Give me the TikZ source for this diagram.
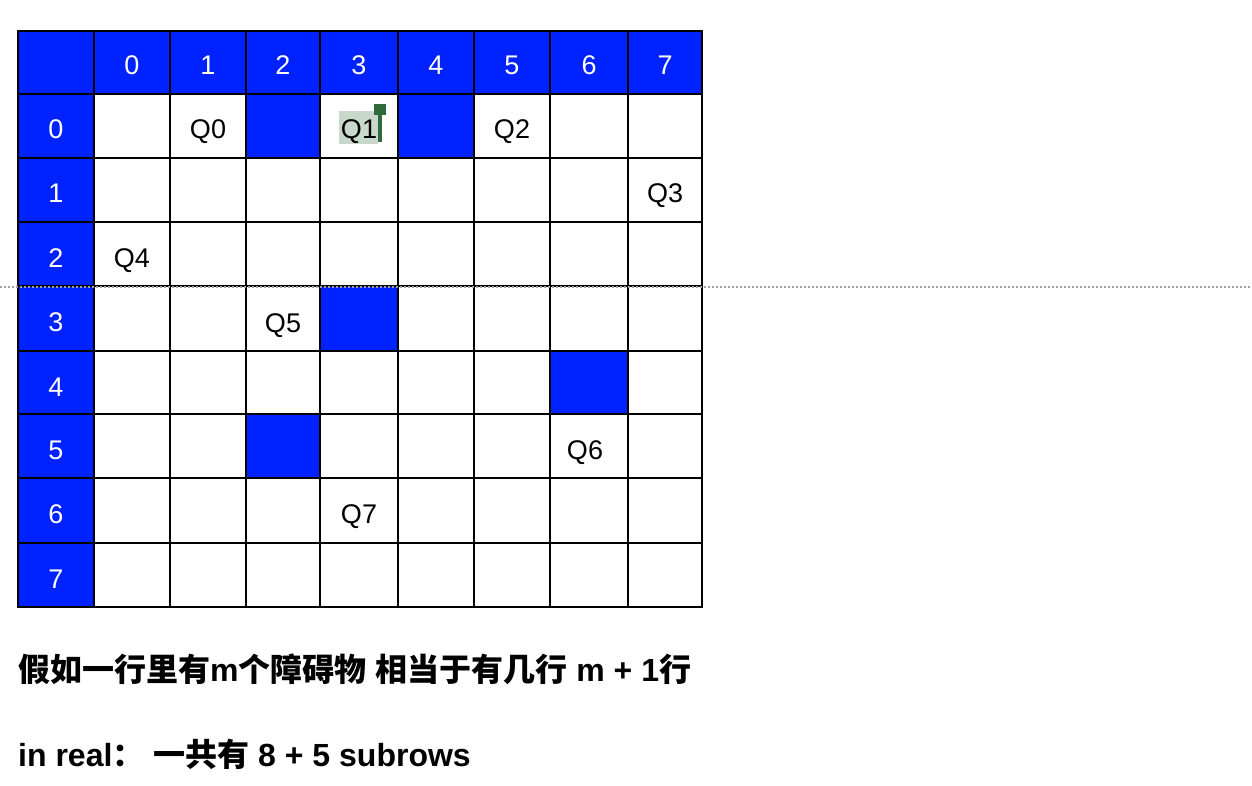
\documentclass[tikz,border=0pt]{standalone}
\usepackage{fontspec}
\setmainfont{Liberation Sans}
\newfontfamily\cjk{Noto Sans CJK SC}
\definecolor{cellblue}{HTML}{0022FF}
\definecolor{hlgreen}{HTML}{C8D9CB}
\definecolor{cursorgreen}{HTML}{2F6B3A}
\definecolor{dotgray}{HTML}{A0A0A0}
\begin{document}
\begin{tikzpicture}[x=1pt,y=-1pt,
  gridline/.style={line width=2pt,black,line cap=rect},
  blue cell/.style={fill=cellblue},
  hdrtext/.style={text=white,inner sep=0pt,anchor=base,font=\fontsize{27}{30}\selectfont},
  qtext/.style={text=black,inner sep=0pt,anchor=base,font=\fontsize{27}{30}\selectfont},
  note/.style={inner sep=0pt,anchor=base west,font=\fontsize{32}{36}\selectfont\bfseries}]
\useasboundingbox[fill=white] (0,0) rectangle (1252,786);
% header row and header column
\fill[blue cell] (18,31) rectangle (702,94);
\fill[blue cell] (18,31) rectangle (94,607);
% obstacles
\fill[blue cell] (246,94) rectangle (320,158);
\fill[blue cell] (398,94) rectangle (474,158);
\fill[blue cell] (320,286) rectangle (398,351);
\fill[blue cell] (550,351) rectangle (628,414);
\fill[blue cell] (246,414) rectangle (320,478);
% highlight of Q1
\fill[hlgreen] (339,111) rectangle (378,144);
% grid lines
\foreach \xx in {18,94,170,246,320,398,474,550,628,702}
  \draw[gridline] (\xx,31) -- (\xx,607);
\foreach \yy in {31,94,158,222,286,351,414,478,543,607}
  \draw[gridline] (18,\yy) -- (702,\yy);
% header labels
\foreach \c/\cx in {0/132,1/208,2/283,3/359,4/436,5/512,6/589,7/665}
  \node[hdrtext] (col\c) at (\cx,75) {\c};
\foreach \r/\ry in {0/139,1/203,2/267,3/331,4/396,5/459,6/523,7/588}
  \node[hdrtext] (row\r) at (56,\ry) {\r};
% queens
\node[qtext] (q0) at (208,139) {Q0};
\node[qtext] (q1) at (359,139) {Q1};
\node[qtext] (q2) at (512,139) {Q2};
\node[qtext] (q3) at (665,203) {Q3};
\node[qtext] (q4) at (132,267) {Q4};
\node[qtext] (q5) at (283,332) {Q5};
\node[qtext] (q6) at (585,459) {Q6};
\node[qtext] (q7) at (359,523) {Q7};
% cursor
\fill[cursorgreen] (378,104) rectangle (382,142);
\fill[cursorgreen] (374,104) rectangle (386,115);
% dotted line
\draw[dotgray,line width=1.5pt,dash pattern=on 2pt off 2pt] (0,287) -- (1252,287);
% notes
\node[note] (n1) at (18,681) {{\cjk 假如一行里有}m{\cjk 个障碍物} {\cjk 相当于有几行} m + 1{\cjk 行}};
\node[note] (n2) at (18,766) {in real{\cjk ：} {\cjk 一共有} 8 + 5 subrows};
\end{tikzpicture}
\end{document}
